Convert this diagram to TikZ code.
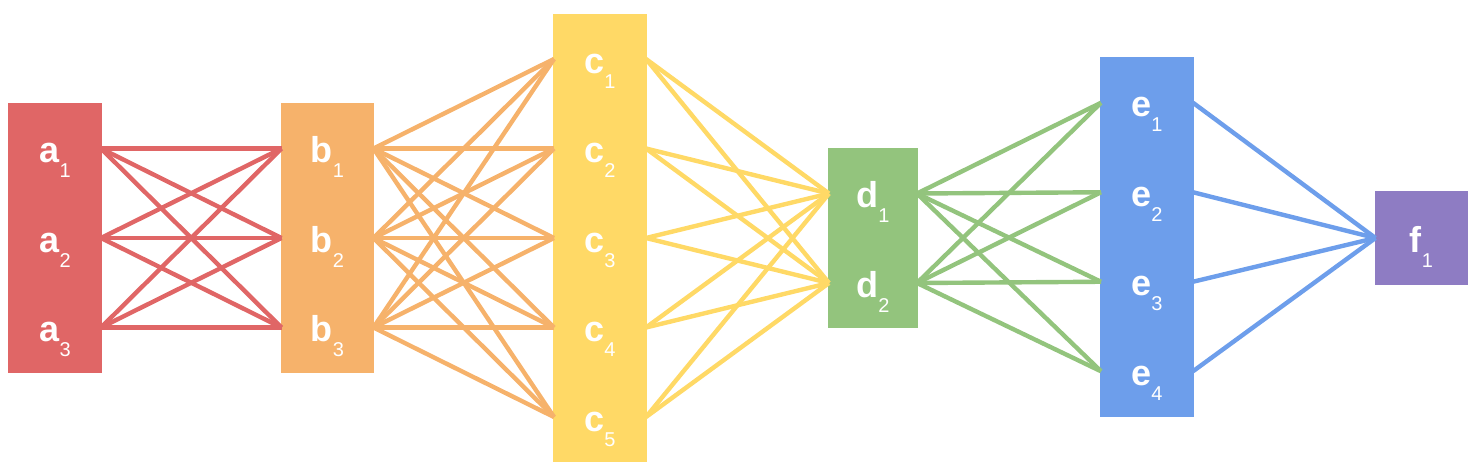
\documentclass[tikz,border=0pt]{standalone}
\usepackage{fontspec}
\setmainfont{Liberation Sans}
\usetikzlibrary{positioning}

\definecolor{layerA}{HTML}{E06666}
\definecolor{layerB}{HTML}{F6B26B}
\definecolor{layerC}{HTML}{FFD966}
\definecolor{layerD}{HTML}{93C47D}
\definecolor{layerE}{HTML}{6D9EEB}
\definecolor{layerF}{HTML}{8E7CC3}

\newcommand{\unitname}[2]{\textbf{#1}\raisebox{-7.5pt}{\fontsize{10}{10}\selectfont #2}}

\begin{document}
\begin{tikzpicture}[x=0.5pt, y=-0.5pt,
    cell/.style={fill=#1, draw=#1, line width=0.6pt,
        minimum width=46pt, minimum height=44.75pt, inner sep=0pt, outer sep=0pt,
        text=white, font=\fontsize{18}{18}\selectfont,
        text height=16pt, text depth=2pt},
    link/.style={line width=2.2pt}]
    \useasboundingbox (0,0) rectangle (1480,473);

    % input layer
    \node[cell=layerA] (a1) at (55,148.5) {\unitname{a}{1}};
    \node[cell=layerA, below=0pt of a1] (a2) {\unitname{a}{2}};
    \node[cell=layerA, below=0pt of a2] (a3) {\unitname{a}{3}};

    \node[cell=layerB] (b1) at (327.5,148.5) {\unitname{b}{1}};
    \node[cell=layerB, below=0pt of b1] (b2) {\unitname{b}{2}};
    \node[cell=layerB, below=0pt of b2] (b3) {\unitname{b}{3}};

    \node[cell=layerC] (c1) at (600,59) {\unitname{c}{1}};
    \node[cell=layerC, below=0pt of c1] (c2) {\unitname{c}{2}};
    \node[cell=layerC, below=0pt of c2] (c3) {\unitname{c}{3}};
    \node[cell=layerC, below=0pt of c3] (c4) {\unitname{c}{4}};
    \node[cell=layerC, below=0pt of c4] (c5) {\unitname{c}{5}};

    \node[cell=layerD, minimum width=44pt] (d1) at (873,193.5) {\unitname{d}{1}};
    \node[cell=layerD, minimum width=44pt, below=0pt of d1] (d2) {\unitname{d}{2}};

    \node[cell=layerE] (e1) at (1147,102.75) {\unitname{e}{1}};
    \node[cell=layerE, below=0pt of e1] (e2) {\unitname{e}{2}};
    \node[cell=layerE, below=0pt of e2] (e3) {\unitname{e}{3}};
    \node[cell=layerE, below=0pt of e3] (e4) {\unitname{e}{4}};

    % output layer
    \node[cell=layerF, minimum height=46pt] (f1) at (1421.5,238) {\unitname{f}{1}};

    % full connections
    \foreach \i in {1,2,3}
        \foreach \j in {1,2,3}
            \draw[link, layerA] (a\i.east) -- (b\j.west);
    \foreach \i in {1,2,3}
        \foreach \j in {1,...,5}
            \draw[link, layerB] (b\i.east) -- (c\j.west);
    \foreach \i in {1,...,5}
        \foreach \j in {1,2}
            \draw[link, layerC] (c\i.east) -- (d\j.west);
    \foreach \i in {1,2}
        \foreach \j in {1,...,4}
            \draw[link, layerD] (d\i.east) -- (e\j.west);
    \foreach \i in {1,...,4}
        \draw[link, layerE] (e\i.east) -- (f1.west);
\end{tikzpicture}
\end{document}
